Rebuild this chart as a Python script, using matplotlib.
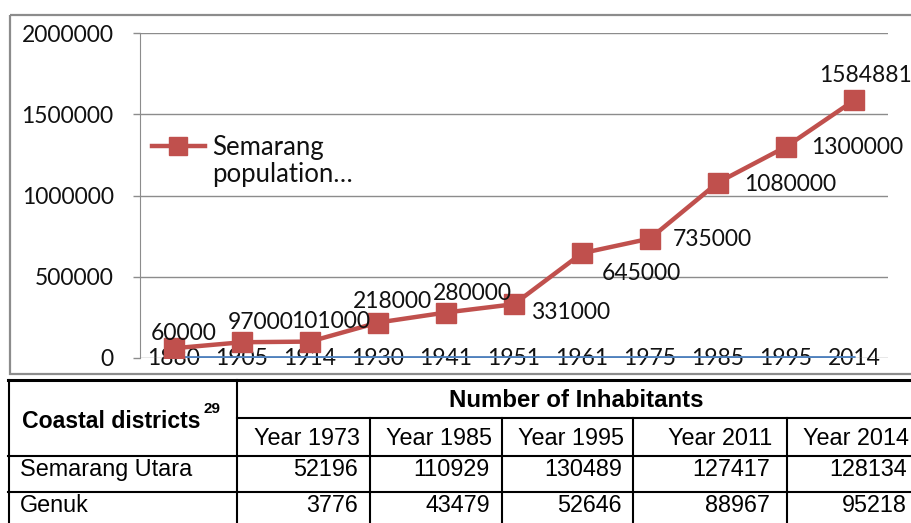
import matplotlib.pyplot as plt
from matplotlib.patches import Rectangle

# chart data
years = ['1880', '1905', '1914', '1930', '1941', '1951', '1961', '1975', '1985', '1995', '2014']
year_values = [1880, 1905, 1914, 1930, 1941, 1951, 1961, 1975, 1985, 1995, 2014]
population = [60000, 97000, 101000, 218000, 280000, 331000, 645000, 735000, 1080000, 1300000, 1584881]
series_name = ['Semarang', 'population…']
y_ticks = [0, 500000, 1000000, 1500000, 2000000]

# table data
table_header = 'Number of Inhabitants'
first_col_header = 'Coastal districts'
footnote = '29'
table_years = ['Year 1973', 'Year 1985', 'Year 1995', 'Year 2011', 'Year 2014']
districts = ['Semarang Utara', 'Genuk']
semarang_utara = [52196, 110929, 130489, 127417, 128134]
genuk = [3776, 43479, 52646, 88967, 95218]

W, H = 912, 523
RED = '#C0504D'
BLUE = '#4F81BD'
GRID = '#8C8C8C'
INK = '#111111'
CHART_FONT = 'Lato'
TABLE_FONT = 'Liberation Sans'
FS = 16.5

# where each data label sits relative to its point (ha, dx px, dy px)
label_pos = [('center', 10, 15), ('center', 19, 20), ('center', 21, 20), ('center', 14, 21),
             ('center', 26, 19), ('left', 17, -8), ('left', 20, -20), ('left', 23, -1),
             ('left', 26, -2), ('left', 25, -1), ('center', 11, 25)]

fig = plt.figure(figsize=(W / 100, H / 100), dpi=100)

# background layer in pixel coordinates: chart frame + table
bg = fig.add_axes([0, 0, 1, 1], zorder=0)
bg.set_xlim(0, W)
bg.set_ylim(H, 0)
bg.axis('off')
bg.add_patch(Rectangle((10, 15), 920, 359, fill=False, edgecolor=GRID, lw=1.6))

# ---- line chart ----
ax = fig.add_axes([140 / W, 1 - 358 / H, 748 / W, 325 / H], zorder=1)
ax.patch.set_alpha(0)
ax.set_axisbelow(True)
x = list(range(len(years)))
ax.plot(x, year_values, color=BLUE, lw=2.3, zorder=2)
ax.plot(x, population, color=RED, lw=3.2, marker='s', ms=15, label=series_name[0], zorder=3)

for i, v in enumerate(population):
    ha, dx, dy = label_pos[i]
    ax.annotate(str(v), (x[i], v), xytext=(dx, dy), textcoords='offset pixels',
                ha=ha, va='center', fontsize=FS, family=CHART_FONT, color=INK, zorder=4)

ax.set_xlim(-0.5, len(years) - 0.5)
ax.set_ylim(0, 2000000)
ax.set_xticks(x)
ax.set_xticklabels(years, family=CHART_FONT, fontsize=FS, color=INK, va='center')
ax.set_yticks(y_ticks)
ax.set_yticklabels([str(v) for v in y_ticks], family=CHART_FONT, fontsize=FS, color=INK)
ax.tick_params(axis='x', length=0, pad=0.5)
ax.tick_params(axis='y', length=5, color=GRID, width=1, pad=14)
ax.yaxis.grid(True, color=GRID, lw=1)
for side in ['top', 'right', 'bottom']:
    ax.spines[side].set_visible(False)
ax.spines['left'].set_color(GRID)

leg = ax.legend(loc='upper left', bbox_to_anchor=(0.016, 0.685), frameon=False,
                handlelength=2.06, handletextpad=0.27, borderpad=0, borderaxespad=0,
                prop={'family': CHART_FONT, 'size': 18.5}, markerscale=0.9)
leg_text = leg.get_texts()[0]
leg_text.set_color(INK)
# second line of the (truncated) series name, right under the legend entry;
# drawn after the legend so the legend text already has its place
ax.annotate(series_name[1], xy=(0, 0), xycoords=leg_text, xytext=(0, -27),
            textcoords='offset pixels', ha='left', va='bottom',
            fontsize=18.5, family=CHART_FONT, color=INK, zorder=6)

# ---- table ----
col_edges = [9, 237, 370, 502, 633, 787, 915]
num_right = [358, 490, 622, 770, 907]
lw = 1.5
bg.plot([8, 915], [380, 380], color='black', lw=2.2)
bg.plot([8, 915], [456, 456], color='black', lw=lw)
bg.plot([8, 915], [492, 492], color='black', lw=lw)
bg.plot([237, 915], [418, 418], color='black', lw=lw)
bg.plot([9, 9], [380, 523], color='black', lw=lw)
bg.plot([237, 237], [380, 523], color='black', lw=lw)
for cx in col_edges[2:-1]:
    bg.plot([cx, cx], [418, 523], color='black', lw=lw)

bg.text(576, 407, table_header, ha='center', va='baseline', fontsize=17.3,
        fontweight='bold', family=TABLE_FONT)
bg.text(22, 428, first_col_header, ha='left', va='baseline', fontsize=16.6,
        fontweight='bold', family=TABLE_FONT)
bg.text(204, 413, footnote, ha='left', va='baseline', fontsize=11,
        fontweight='bold', family=TABLE_FONT)
for i, label in enumerate(table_years):
    bg.text(num_right[i] + 2, 445, label, ha='right', va='baseline', fontsize=16.8, family=TABLE_FONT)

for row, (name, vals) in enumerate(zip(districts, [semarang_utara, genuk])):
    base = [476, 512][row]
    bg.text(20, base, name, ha='left', va='baseline', fontsize=16.8, family=TABLE_FONT)
    for i, v in enumerate(vals):
        bg.text(num_right[i], base, str(v), ha='right', va='baseline', fontsize=16.8, family=TABLE_FONT)

fig.savefig('out.png', dpi=100)
